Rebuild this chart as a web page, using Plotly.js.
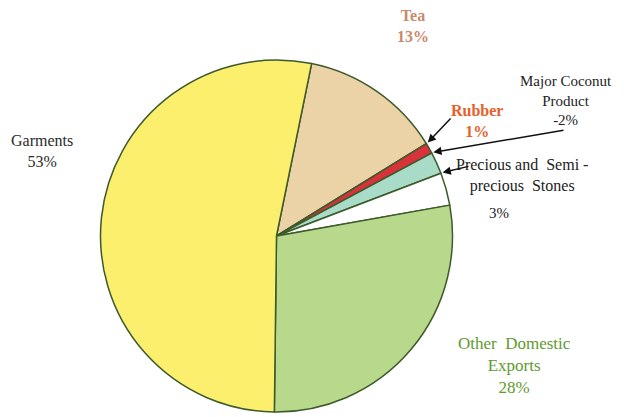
<!DOCTYPE html>
<html>
<head>
<meta charset="utf-8">
<script src="https://cdn.plot.ly/plotly-3.0.1.min.js"></script>
<style>html,body{margin:0;padding:0;background:#fff;}#chart{width:624px;height:417px;}</style>
</head>
<body>
<div id="chart"></div>
<script>
const categories = ["Tea", "Rubber", "Major Coconut Product", "Precious and Semi-precious Stones", "Other Domestic Exports", "Garments"];
const shares = [13, 1, 2, 3, 28, 53];
const sliceColors = ["#ecd3a7", "#d8323a", "#a8dcc8", "#ffffff", "#b8d98b", "#fcef6e"];
const labelTexts = ["<b>Tea</b><br><b>13%</b>", "<b>Rubber</b><br><b>1%</b>", "Major Coconut<br>Product<br>-2%", "Precious and  Semi -<br>precious  Stones", "Other  Domestic<br>Exports<br>28%", "Garments<br>53%"];

const W = 624, H = 417;
const CX = 276.5, CY = 236, R = 176;
const ROT = 11.5;
const serif = "Liberation Serif, Times New Roman, serif";

const total = shares.reduce((a, b) => a + b, 0);
const startAngles = [];
let acc = ROT;
shares.forEach(v => { startAngles.push(acc); acc += v / total * 360; });
function edgePoint(angleDeg, rr) {
  const a = angleDeg * Math.PI / 180;
  return [(CX + rr * Math.sin(a)) / W, 1 - (CY - rr * Math.cos(a)) / H];
}

const trace = {
  type: "pie",
  labels: categories,
  values: shares,
  sort: false,
  direction: "clockwise",
  rotation: ROT,
  textinfo: "none",
  hoverinfo: "label+percent",
  marker: { colors: sliceColors, line: { color: "#3d5a2a", width: 1.5 } },
  domain: { x: [(CX - R) / W, (CX + R) / W], y: [1 - (CY + R) / H, 1 - (CY - R) / H] },
  showlegend: false
};

function label(i, px, py, color, size) {
  return { xref: "paper", yref: "paper", x: px / W, y: 1 - py / H, text: labelTexts[i], showarrow: false,
    xanchor: "center", yanchor: "middle", align: "center",
    font: { family: serif, size: size || 16, color: color } };
}
function arrow(i, tailX, tailY) {
  const tip = edgePoint(startAngles[i], R * 1.01);
  const tipPx = [tip[0] * W, (1 - tip[1]) * H];
  return { xref: "paper", yref: "paper", x: tip[0], y: tip[1], text: "", showarrow: true,
    ax: tailX - tipPx[0], ay: tailY - tipPx[1], arrowhead: 2, arrowsize: 1.1, arrowwidth: 1.5, arrowcolor: "#111" };
}

const annotations = [
  label(0, 413, 26, "#c98a6c", 16),
  label(5, 42, 151, "#2a2a2a", 16),
  label(1, 477, 121, "#e8602c", 16),
  label(2, 566, 100, "#222", 15),
  label(3, 522, 175, "#222", 16),
  { xref: "paper", yref: "paper", x: 511 / W, y: 1 - 213 / H, text: "3%", showarrow: false,
    font: { family: serif, size: 15, color: "#222" } },
  label(4, 514, 365, "#5f9a2e", 17),
  arrow(1, 452, 117),
  arrow(2, 565, 130),
  arrow(3, 470, 166)
];

const layout = {
  width: W, height: H,
  margin: { l: 0, r: 0, t: 0, b: 0 },
  paper_bgcolor: "#ffffff",
  annotations: annotations
};
Plotly.newPlot("chart", [trace], layout, { displayModeBar: false, staticPlot: true });
</script>
</body>
</html>
